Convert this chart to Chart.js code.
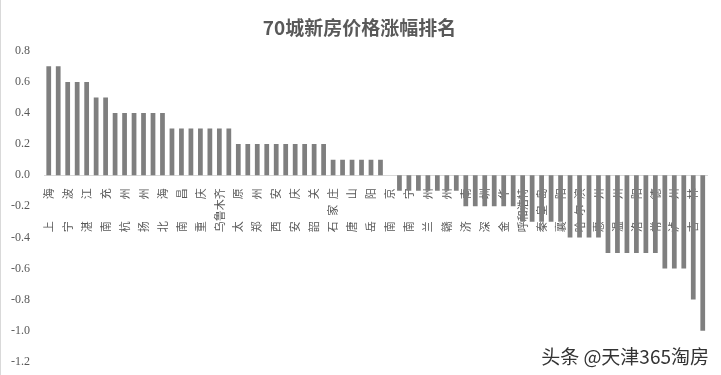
<!DOCTYPE html>
<html>
<head>
<meta charset="utf-8">
<script src="https://cdn.jsdelivr.net/npm/chart.js@4"></script>
<style>
  html, body { margin: 0; padding: 0; background: #fff; }
  #wrap { position: relative; width: 721px; height: 375px; box-sizing: border-box; border-left: 1px solid #d9d9d9; }
  #mark { position: absolute; right: 12px; bottom: 6px; font: 19px "Noto Sans CJK SC", sans-serif; color: #333;
          text-shadow: 0 0 2px #fff, 0 0 2px #fff; }
</style>
</head>
<body>
<div id="wrap">
  <canvas id="myBarChart" width="720" height="375"></canvas>
  <div id="mark">头条 @天津365淘房</div>
</div>
<script>
// 70 cities, in chart order (only every other name is shown on the axis)
const cities = [
  '上海', '北京', '宁波', '天津', '湛江', '沈阳', '南充', '大连', '杭州', '长春',
  '扬州', '合肥', '北海', '福州', '南昌', '厦门', '重庆', '青岛', '乌鲁木齐', '武汉',
  '太原', '长沙', '郑州', '广州', '西安', '海口', '安庆', '成都', '韶关', '贵阳',
  '石家庄', '昆明', '唐山', '西宁', '岳阳', '银川', '南京', '包头', '南宁', '丹东',
  '兰州', '锦州', '赣州', '牡丹江', '济南', '无锡', '深圳', '徐州', '金华', '蚌埠',
  '呼和浩特', '泉州', '秦皇岛', '九江', '襄阳', '烟台', '哈尔滨', '济宁', '惠州', '平顶山',
  '温州', '宜昌', '洛阳', '桂林', '常德', '三亚', '泸州', '遵义', '吉林', '大理'
];

// month-on-month change, %
const changes = [
  0.7, 0.7, 0.6, 0.6, 0.6, 0.5, 0.5, 0.4, 0.4, 0.4,
  0.4, 0.4, 0.4, 0.3, 0.3, 0.3, 0.3, 0.3, 0.3, 0.3,
  0.2, 0.2, 0.2, 0.2, 0.2, 0.2, 0.2, 0.2, 0.2, 0.2,
  0.1, 0.1, 0.1, 0.1, 0.1, 0.1, 0.0, -0.1, -0.1, -0.1,
  -0.1, -0.1, -0.1, -0.1, -0.2, -0.2, -0.2, -0.2, -0.2, -0.2,
  -0.3, -0.3, -0.3, -0.3, -0.3, -0.4, -0.4, -0.4, -0.4, -0.5,
  -0.5, -0.5, -0.5, -0.5, -0.5, -0.6, -0.6, -0.6, -0.8, -1.0
];

// y axis: -1.2 .. 0.8 in steps of 0.2
const yMin = -1.2;
const yMax = 0.8;
const yStep = 0.2;

// spread short names out along the rotated label, like the Excel axis does
function spreadName(name) {
  const chars = Array.from(name);
  if (chars.length === 2) return chars.join('\u3000\u3000');
  if (chars.length === 3) return chars.join('\u2002');
  return name;
}

const ctx = document.getElementById('myBarChart').getContext('2d');

new Chart(ctx, {
  type: 'bar',
  data: {
    labels: cities,
    datasets: [{
      data: changes,
      backgroundColor: '#7f7f7f',
      barPercentage: 0.5,
      categoryPercentage: 1.0,
    }],
  },
  options: {
    responsive: false,
    animation: false,
    layout: {
      padding: { left: 5, right: 8, bottom: 11 },
    },
    plugins: {
      legend: { display: false },
      tooltip: { enabled: false },
      title: {
        display: true,
        text: '70城新房价格涨幅排名',
        color: '#595959',
        font: { family: '"Noto Sans CJK SC", sans-serif', size: 19, weight: 'bold' },
        padding: { top: 16, bottom: 12 },
      },
    },
    scales: {
      x: {
        position: { y: 0 },
        grid: { display: false },
        border: { color: '#d9d9d9', width: 1 },
        ticks: {
          autoSkip: false,
          minRotation: 90,
          maxRotation: 90,
          padding: 5,
          color: '#595959',
          font: { family: '"Noto Sans CJK SC", sans-serif', size: 11 },
          callback: (value, index) => (index % 2 === 0 ? spreadName(cities[index]) : ''),
        },
      },
      y: {
        min: yMin,
        max: yMax,
        grid: { display: false },
        border: { display: false },
        afterFit: scale => { scale.width = 38; },
        ticks: {
          stepSize: yStep,
          padding: 6,
          color: '#595959',
          font: { family: '"Liberation Serif", serif', size: 12 },
          callback: value => {
            const v = Math.round(value * 10) / 10;
            return (v === 0 ? 0 : v).toFixed(1);
          },
        },
      },
    },
  },
});
</script>
</body>
</html>
